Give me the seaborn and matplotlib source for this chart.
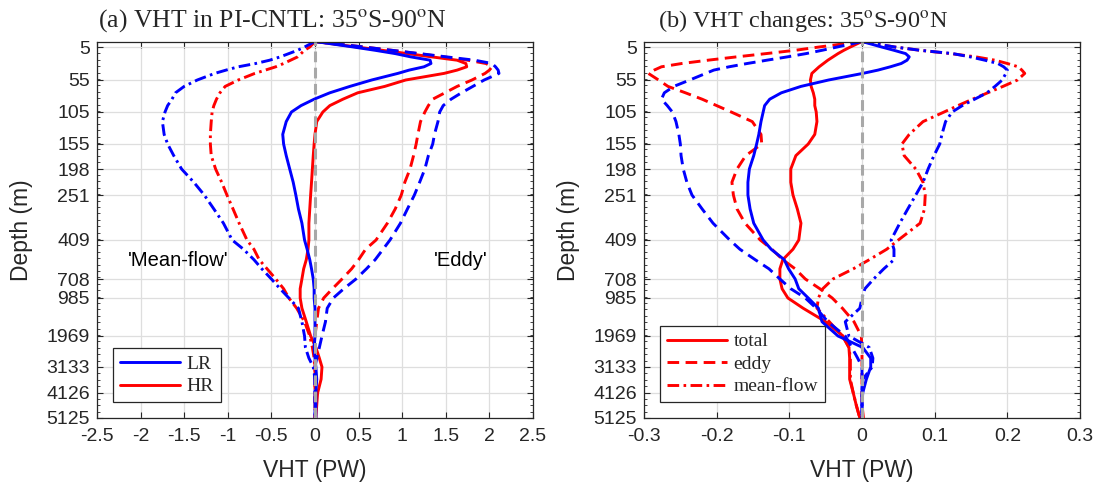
import numpy as np
import pandas as pd
import matplotlib
matplotlib.use("Agg")
import matplotlib.pyplot as plt
import seaborn as sns
from matplotlib.lines import Line2D

# ---------------- data ----------------
depth = [0, 5, 10, 15, 20, 25, 30, 35, 40, 45, 55, 65, 75, 85, 95, 105, 120, 140, 155,
         175, 198, 225, 251, 300, 350, 409, 480, 560, 630, 708, 850, 985, 1250, 1600,
         1969, 2400, 2800, 3133, 3600, 4126, 4600, 5125]

# (a) VHT in PI-CNTL
lr_total = [0, 0.44, 0.69, 0.92, 1.10, 1.32, 1.33, 1.25, 1.08, 0.95, 0.65, 0.40, 0.17, -0.01, -0.16,
            -0.27, -0.33, -0.37, -0.36, -0.33, -0.29, -0.25, -0.22, -0.19, -0.15, -0.12, -0.09, -0.06,
            -0.04, -0.02, -0.01, -0.01, 0.0, 0.0, 0.0, -0.01, 0.0, 0.01, 0.02, 0.01, 0.01, 0.01]
hr_total = [0, 0.48, 0.77, 1.06, 1.34, 1.63, 1.73, 1.74, 1.63, 1.48, 1.04, 0.80, 0.49, 0.32, 0.17,
            0.09, 0.02, 0.0, -0.01, -0.02, -0.03, -0.04, -0.05, -0.06, -0.07, -0.07, -0.08, -0.10,
            -0.13, -0.15, -0.17, -0.17, -0.15, -0.10, -0.05, 0.01, 0.05, 0.08, 0.07, 0.03, 0.02, 0.01]
lr_eddy = [0, 0.56, 0.88, 1.20, 1.51, 1.83, 2.03, 2.07, 2.10, 2.11, 1.94, 1.81, 1.68, 1.56, 1.47,
           1.43, 1.41, 1.37, 1.35, 1.30, 1.26, 1.20, 1.14, 1.06, 0.98, 0.86, 0.78, 0.69, 0.59,
           0.47, 0.33, 0.21, 0.14, 0.12, 0.08, 0.05, 0.02, 0.0, 0.0, 0.0, 0.0, 0.0]
hr_eddy = [0, 0.56, 0.88, 1.18, 1.48, 1.75, 1.96, 2.03, 2.00, 1.95, 1.80, 1.63, 1.49, 1.35, 1.30,
           1.26, 1.21, 1.18, 1.16, 1.13, 1.09, 1.03, 0.99, 0.92, 0.83, 0.70, 0.58, 0.50, 0.42,
           0.31, 0.20, 0.10, 0.04, 0.02, 0.0, -0.01, 0.0, 0.0, 0.0, 0.0, 0.0, 0.0]
lr_mean = [0, -0.12, -0.20, -0.30, -0.40, -0.52, -0.68, -0.88, -1.02, -1.15, -1.35, -1.50, -1.60,
           -1.64, -1.69, -1.72, -1.75, -1.73, -1.69, -1.62, -1.53, -1.39, -1.27, -1.16, -1.05,
           -0.95, -0.82, -0.70, -0.61, -0.50, -0.40, -0.30, -0.19, -0.15, -0.12, -0.11, -0.07,
           -0.02, 0.0, 0.0, 0.0, 0.0]
hr_mean = [0, -0.06, -0.12, -0.16, -0.20, -0.28, -0.36, -0.45, -0.57, -0.69, -0.88, -1.03, -1.09,
           -1.13, -1.16, -1.18, -1.19, -1.20, -1.20, -1.19, -1.14, -1.07, -1.01, -0.94, -0.87,
           -0.78, -0.70, -0.64, -0.55, -0.45, -0.36, -0.30, -0.21, -0.12, -0.06, -0.03, -0.01,
           0.0, 0.0, 0.0, 0.0, 0.0]

# (b) VHT changes
lr_total_chg = [0, 0.027, 0.044, 0.060, 0.065, 0.062, 0.054, 0.039, 0.022, 0.001, -0.046, -0.084,
                -0.111, -0.127, -0.134, -0.136, -0.139, -0.142, -0.145, -0.149, -0.155, -0.157,
                -0.157, -0.154, -0.149, -0.136, -0.125, -0.107, -0.101, -0.092, -0.087, -0.074,
                -0.060, -0.055, -0.033, 0.001, 0.012, 0.012, 0.006, 0.001, 0.0, 0.0]
hr_total_chg = [0, -0.016, -0.025, -0.033, -0.040, -0.047, -0.053, -0.059, -0.064, -0.069, -0.071,
                -0.070, -0.067, -0.065, -0.065, -0.063, -0.062, -0.065, -0.074, -0.091, -0.098,
                -0.098, -0.095, -0.089, -0.084, -0.087, -0.095, -0.109, -0.113, -0.113, -0.110,
                -0.102, -0.081, -0.050, -0.026, -0.018, -0.017, -0.017, -0.017, -0.012, -0.008,
                -0.003]
lr_eddy_chg = [0, -0.034, -0.055, -0.077, -0.103, -0.131, -0.158, -0.183, -0.204, -0.215, -0.237,
               -0.259, -0.272, -0.276, -0.268, -0.261, -0.256, -0.252, -0.250, -0.249, -0.246,
               -0.241, -0.234, -0.220, -0.205, -0.182, -0.168, -0.147, -0.128, -0.113, -0.098,
               -0.078, -0.063, -0.047, -0.023, -0.014, -0.006, 0.0, 0.0, 0.0, 0.0, 0.0]
hr_eddy_chg = [0, -0.059, -0.092, -0.132, -0.173, -0.212, -0.248, -0.276, -0.286, -0.294, -0.280,
               -0.267, -0.243, -0.220, -0.200, -0.180, -0.151, -0.139, -0.138, -0.160, -0.172,
               -0.179, -0.177, -0.172, -0.161, -0.140, -0.124, -0.109, -0.092, -0.078, -0.058,
               -0.041, -0.027, -0.011, -0.001, 0.0, 0.0, 0.0, 0.0, 0.0, 0.0, 0.002]
lr_mean_chg = [0, 0.045, 0.080, 0.125, 0.149, 0.169, 0.187, 0.195, 0.200, 0.198, 0.193, 0.183,
               0.172, 0.155, 0.138, 0.124, 0.115, 0.110, 0.107, 0.099, 0.091, 0.084, 0.074,
               0.063, 0.052, 0.040, 0.044, 0.044, 0.030, 0.016, 0.004, 0.0, -0.003, -0.023,
               -0.018, 0.010, 0.015, 0.014, 0.001, 0.0, 0.0, 0.0]
hr_mean_chg = [0, 0.045, 0.080, 0.122, 0.157, 0.183, 0.200, 0.215, 0.220, 0.224, 0.214, 0.194,
               0.173, 0.152, 0.132, 0.113, 0.084, 0.065, 0.055, 0.058, 0.074, 0.084, 0.087,
               0.086, 0.080, 0.050, 0.034, 0.010, -0.012, -0.040, -0.054, -0.060, -0.062, -0.045,
               -0.027, -0.018, -0.016, -0.016, -0.016, -0.012, -0.008, -0.003]

depth_ticks = [5, 55, 105, 155, 198, 251, 409, 708, 985, 1969, 3133, 4126, 5125]
xticks_a = [-2.5, -2, -1.5, -1, -0.5, 0, 0.5, 1, 1.5, 2, 2.5]
xticks_b = [-0.3, -0.2, -0.1, 0, 0.1, 0.2, 0.3]

# depth axis is drawn on model-level spacing: anchor depths and their relative positions
scale_depth = [0, 5, 55, 105, 155, 198, 251, 409, 708, 985, 1969, 3133, 4126, 5125]
scale_pos = [0, 5.5, 38.5, 70.5, 102.5, 127.5, 153.5, 198.5, 237.5, 256.5, 294.5, 325.5, 351.5, 376.5]


def fwd(d):
    return np.interp(d, scale_depth, scale_pos)


def inv(p):
    return np.interp(p, scale_pos, scale_depth)


def long_df(series):
    rows = []
    for (run, comp), vals in series.items():
        for d, v in zip(depth, vals):
            rows.append({"run": run, "comp": comp, "depth": d, "vht": v})
    return pd.DataFrame(rows)


df_a = long_df({("HR", "total"): hr_total, ("HR", "eddy"): hr_eddy, ("HR", "mean-flow"): hr_mean,
                ("LR", "total"): lr_total, ("LR", "eddy"): lr_eddy, ("LR", "mean-flow"): lr_mean})
df_b = long_df({("HR", "total"): hr_total_chg, ("HR", "eddy"): hr_eddy_chg,
                ("HR", "mean-flow"): hr_mean_chg,
                ("LR", "total"): lr_total_chg, ("LR", "eddy"): lr_eddy_chg,
                ("LR", "mean-flow"): lr_mean_chg})

# ---------------- style ----------------
sns.set_theme(style="ticks")
plt.rcParams["font.family"] = ["Liberation Sans", "DejaVu Sans"]
plt.rcParams["mathtext.fontset"] = "stix"

BLUE = "#0000ff"
RED = "#ff0000"
palette = {"LR": BLUE, "HR": RED}
dash_ep = (4, 2.2)
dash_dd = (4, 1.5, 0.9, 1.5)
dashes = {"total": "", "eddy": dash_ep, "mean-flow": dash_dd}
FRAME = "#262626"
LW = 2.1

fig = plt.figure(figsize=(11.03, 4.87), dpi=100)
ax_a = fig.add_axes([97 / 1103, 1 - 418 / 487, 436 / 1103, 376.5 / 487])
ax_b = fig.add_axes([644 / 1103, 1 - 418 / 487, 436 / 1103, 376.5 / 487])


def style_axes(ax, xlim, xticks, xticklabels):
    ax.set_yscale("function", functions=(fwd, inv))
    ax.set_ylim(5125, 0)
    ax.set_xlim(*xlim)
    ax.set_yticks(depth_ticks)
    ax.set_yticklabels([str(t) for t in depth_ticks])
    minor_pos = np.arange(5.5, 376.5, 6.4)
    ax.set_yticks(inv(minor_pos), minor=True)
    ax.set_xticks(xticks)
    ax.set_xticklabels(xticklabels)
    ax.grid(True, which="major", color="#dedede", lw=0.9, zorder=0)
    ax.set_axisbelow(True)
    for s in ax.spines.values():
        s.set_visible(True)
        s.set_color(FRAME)
        s.set_linewidth(0.9)
    ax.tick_params(which="major", direction="in", length=4, width=0.8, top=True, right=True,
                   color=FRAME, labelsize=14, labelcolor="#262626")
    ax.tick_params(axis="x", pad=7)
    ax.tick_params(axis="y", pad=5)
    ax.tick_params(which="minor", direction="in", length=2, width=0.6, left=True, right=True,
                   color=FRAME)
    ax.set_xlabel("VHT (PW)", fontsize=16.5, color="#262626")
    ax.set_ylabel("Depth (m)", fontsize=16.5, color="#262626")
    ax.xaxis.set_label_coords(0.5, -0.108)
    ax.yaxis.set_label_coords(-0.146, 0.5)


for ax, df in ((ax_a, df_a), (ax_b, df_b)):
    sns.lineplot(data=df, x="vht", y="depth", hue="run", style="comp", hue_order=["HR", "LR"],
                 style_order=["total", "eddy", "mean-flow"], palette=palette, dashes=dashes,
                 sort=False, orient="y", estimator=None, lw=LW, legend=False, ax=ax, zorder=2)
    ax.axvline(0, color="#a8a8a8", lw=2.2, dashes=(3.5, 1.8), zorder=3)

style_axes(ax_a, (-2.5, 2.5), xticks_a, ["-2.5", "-2", "-1.5", "-1", "-0.5", "0", "0.5", "1",
                                         "1.5", "2", "2.5"])
style_axes(ax_b, (-0.3, 0.3), xticks_b, ["-0.3", "-0.2", "-0.1", "0", "0.1", "0.2", "0.3"])

ax_a.text(-1.57, 570, "'Mean-flow'", ha="center", va="center", fontsize=14.5, color="black")
ax_a.text(1.67, 570, "'Eddy'", ha="center", va="center", fontsize=14.5, color="black")

serif = ["Liberation Serif", "DejaVu Serif"]
leg_kw = dict(loc="lower left", bbox_to_anchor=(0.036, 0.042), borderaxespad=0, frameon=True,
              fancybox=False, framealpha=1, edgecolor=FRAME, handlelength=3.1,
              handletextpad=0.35, labelspacing=0.25, borderpad=0.35,
              prop={"family": serif, "size": 14})
h_a = [Line2D([], [], color=BLUE, lw=LW), Line2D([], [], color=RED, lw=LW)]
leg = ax_a.legend(h_a, ["LR", "HR"], **leg_kw)
leg.get_frame().set_linewidth(0.9)
h_b = [Line2D([], [], color=RED, lw=LW),
       Line2D([], [], color=RED, lw=LW, dashes=dash_ep),
       Line2D([], [], color=RED, lw=LW, dashes=dash_dd)]
leg = ax_b.legend(h_b, ["total", "eddy", "mean-flow"], **leg_kw)
leg.get_frame().set_linewidth(0.9)

fig.text(98 / 1103, 1 - 27 / 487, r"(a) VHT in PI-CNTL: 35$^{\mathrm{o}}$S-90$^{\mathrm{o}}$N",
         family=serif, fontsize=18.5, va="baseline", ha="left")
fig.text(658 / 1103, 1 - 27 / 487, r"(b) VHT changes: 35$^{\mathrm{o}}$S-90$^{\mathrm{o}}$N",
         family=serif, fontsize=17.5, va="baseline", ha="left")

fig.savefig("out.png", dpi=100, facecolor="white")
